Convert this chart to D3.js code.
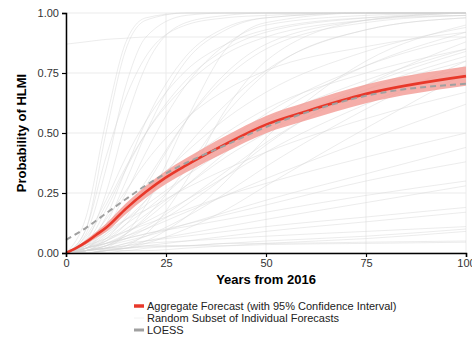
<!DOCTYPE html>
<html>
<head>
<meta charset="utf-8" />
<title>HLMI forecast</title>
<script src="https://d3js.org/d3.v7.min.js"></script>
<style>
  body { margin: 0; background: #fff; }
  svg { display: block; font-family: "Liberation Sans", Arial, Helvetica, sans-serif; }
</style>
</head>
<body>
<svg width="472" height="337"></svg>
<script>
var years = [0, 5, 10, 15, 20, 30, 40, 50, 75, 100];

// random subset of individual forecasts (probability at each of `years`)
var individual = [
  [0, .15, .55, .88, .98, 1, 1, 1, 1, 1],
  [0, .08, .35, .70, .90, .99, 1, 1, 1, 1],
  [0, .05, .25, .55, .78, .96, .99, 1, 1, 1],
  [0, .10, .40, .65, .82, .95, .98, .99, 1, 1],
  [0, .03, .15, .35, .55, .82, .94, .98, 1, 1],
  [.87, .88, .89, .895, .9, .9, .9, .9, .9, .9],
  [0, .02, .10, .25, .42, .70, .87, .95, .99, 1],
  [0, .04, .18, .35, .50, .72, .85, .92, .98, 1],
  [0, .06, .20, .36, .50, .70, .83, .90, .97, .99],
  [0, .02, .08, .18, .30, .55, .73, .85, .96, .99],
  [0, .01, .05, .12, .22, .44, .62, .76, .93, .98],
  [0, .03, .10, .18, .26, .42, .56, .67, .84, .94],
  [0, .02, .06, .12, .18, .32, .46, .58, .78, .90],
  [0, .01, .04, .08, .14, .28, .42, .55, .78, .92],
  [0, .05, .12, .19, .25, .36, .46, .55, .72, .85],
  [0, .01, .03, .06, .10, .20, .32, .45, .70, .88],
  [0, .02, .05, .09, .13, .22, .32, .42, .62, .78],
  [0, .04, .09, .14, .18, .27, .35, .42, .56, .67],
  [0, .01, .02, .04, .07, .15, .25, .36, .60, .80],
  [0, .02, .04, .07, .10, .17, .24, .31, .47, .62],
  [0, .03, .06, .09, .12, .18, .24, .29, .40, .50],
  [0, .00, .01, .02, .04, .10, .18, .28, .52, .75],
  [0, .01, .03, .05, .07, .12, .17, .22, .33, .44],
  [0, .02, .04, .06, .08, .11, .14, .17, .24, .30],
  [0, .01, .02, .03, .05, .08, .11, .14, .21, .28],
  [0, .01, .02, .04, .05, .07, .09, .11, .15, .19],
  [0, .00, .01, .02, .03, .05, .07, .09, .13, .17],
  [0, .01, .02, .03, .04, .05, .06, .07, .09, .11],
  [0, .00, .01, .01, .02, .03, .04, .05, .07, .10],
  [0, .01, .02, .02, .03, .03, .04, .04, .045, .05],
  [0, .01, .015, .02, .025, .03, .03, .035, .04, .045],
  [0, .00, .00, .01, .01, .02, .03, .04, .06, .09],
  [0, .02, .04, .06, .08, .12, .16, .20, .30, .38],
  [0, .10, .50, .85, .97, 1, 1, 1, 1, 1],
  [0, .02, .12, .30, .50, .80, .93, .98, 1, 1],
  [0, .01, .06, .15, .28, .55, .75, .87, .97, 1],
  [0, .07, .22, .40, .55, .76, .87, .93, .98, .99],
  [0, .04, .14, .26, .38, .56, .68, .76, .86, .92],
  [0, .02, .07, .14, .22, .38, .50, .60, .75, .85],
  [0, .01, .03, .07, .11, .22, .34, .46, .68, .82],
  [0, 0, .02, .08, .20, .55, .85, .96, 1, 1],
  [0, 0, .01, .03, .08, .30, .60, .80, .97, 1],
  [0, .01, .03, .08, .15, .35, .58, .75, .93, .98],
  [0, 0, .01, .02, .05, .15, .30, .48, .80, .95],
  [0, .03, .08, .14, .20, .32, .43, .52, .68, .80],
  [0, .02, .05, .10, .16, .28, .40, .50, .70, .84]
];

// aggregate forecast with 95% confidence interval
var aggYears = [0, 2.5, 5, 7.5, 10, 15, 20, 25, 30, 40, 50, 60, 75, 100];
var aggMean  = [0, .02, .045, .075, .105, .185, .255, .315, .365, .455, .535, .59, .663, .737];
var aggLow   = [0, .015, .035, .062, .088, .163, .23, .287, .335, .421, .499, .552, .624, .697];
var aggHigh  = [0, .025, .055, .088, .122, .207, .28, .343, .395, .489, .571, .628, .702, .777];

// LOESS smooth
var loessYears = [0, 5, 10, 15, 20, 25, 30, 40, 50, 60, 75, 100];
var loessVals  = [.055, .105, .165, .225, .282, .332, .375, .45, .525, .585, .655, .705];

var xTicks = [0, 25, 50, 75, 100];
var yTicks = [0, 0.25, 0.5, 0.75, 1];

var legendLabels = [
  "Aggregate Forecast (with 95% Confidence Interval)",
  "Random Subset of Individual Forecasts",
  "LOESS"
];

var svg = d3.select("svg");
var margin = { left: 66, top: 13, right: 6 },
    plotW = 400, plotH = 240;

var x = d3.scaleLinear().domain([0, 100]).range([margin.left, margin.left + plotW]);
var y = d3.scaleLinear().domain([0, 1]).range([margin.top + plotH, margin.top]);

// grid
var grid = svg.append("g");
grid.selectAll(".gx").data(xTicks).enter().append("line")
  .attr("x1", d => x(d)).attr("x2", d => x(d))
  .attr("y1", y(0)).attr("y2", y(1))
  .attr("stroke", "#ebebeb").attr("stroke-width", 1);
grid.selectAll(".gy").data(yTicks).enter().append("line")
  .attr("x1", x(0)).attr("x2", x(100))
  .attr("y1", d => y(d)).attr("y2", d => y(d))
  .attr("stroke", "#ebebeb").attr("stroke-width", 1);

// individual forecasts
var line = d3.line().curve(d3.curveMonotoneX)
  .x(d => x(d[0])).y(d => y(d[1]));

svg.append("g").selectAll("path").data(individual).enter().append("path")
  .attr("d", vals => line(years.map((yr, i) => [yr, vals[i]])))
  .attr("fill", "none")
  .attr("stroke", "#d4d4d4")
  .attr("stroke-opacity", 0.75)
  .attr("stroke-width", 0.6);

// confidence band
var area = d3.area().curve(d3.curveMonotoneX)
  .x((d, i) => x(aggYears[i]))
  .y0((d, i) => y(aggLow[i]))
  .y1((d, i) => y(aggHigh[i]));
svg.append("path").datum(aggYears)
  .attr("d", area)
  .attr("fill", "#f39a93").attr("fill-opacity", 0.8);

// aggregate line
svg.append("path")
  .attr("d", line(aggYears.map((yr, i) => [yr, aggMean[i]])))
  .attr("fill", "none").attr("stroke", "#e8382a").attr("stroke-width", 2.6);

// LOESS
svg.append("path")
  .attr("d", line(loessYears.map((yr, i) => [yr, loessVals[i]])))
  .attr("fill", "none").attr("stroke", "#a0a0a0")
  .attr("stroke-width", 2).attr("stroke-dasharray", "6,4");

// axes
var xAxis = svg.append("g")
  .attr("transform", "translate(0," + y(0) + ")")
  .call(d3.axisBottom(x).tickValues(xTicks).tickFormat(d3.format("d")).tickSizeOuter(0).tickSize(4).tickPadding(2));
var yAxis = svg.append("g")
  .attr("transform", "translate(" + x(0) + ",0)")
  .call(d3.axisLeft(y).tickValues(yTicks).tickFormat(d3.format(".2f")).tickSizeOuter(0).tickSize(4).tickPadding(3));

[xAxis, yAxis].forEach(function (a) {
  a.select(".domain").attr("stroke", "#000").attr("stroke-width", 1.5);
  a.selectAll(".tick line").attr("stroke", "#000").attr("stroke-width", 1.2);
  a.selectAll(".tick text").attr("fill", "#333").style("font-size", "11px")
    .style("font-family", "'Liberation Sans', Arial, sans-serif");
});

// axis titles
svg.append("text")
  .attr("x", x(50)).attr("y", 284)
  .attr("text-anchor", "middle")
  .style("font-size", "13px").style("font-weight", "bold")
  .text("Years from 2016");

svg.append("text")
  .attr("transform", "translate(26," + (margin.top + plotH / 2) + ") rotate(-90)")
  .attr("text-anchor", "middle")
  .style("font-size", "13px").style("font-weight", "bold")
  .text("Probability of HLMI");

// legend
var legendStyles = [
  { color: "#e8382a", width: 3.5 },
  { color: "#f2f2f2", width: 1 },
  { color: "#a0a0a0", width: 3 }
];
var legend = svg.append("g").attr("transform", "translate(134,306)");
legendLabels.forEach(function (lab, i) {
  var gi = legend.append("g").attr("transform", "translate(0," + i * 12 + ")");
  gi.append("line").attr("x1", 0).attr("x2", 10).attr("y1", 0).attr("y2", 0)
    .attr("stroke", legendStyles[i].color).attr("stroke-width", legendStyles[i].width);
  gi.append("text").attr("x", 13).attr("y", 0).attr("dy", "0.35em")
    .style("font-size", "11px").attr("fill", "#222")
    .text(lab);
});
</script>
</body>
</html>
